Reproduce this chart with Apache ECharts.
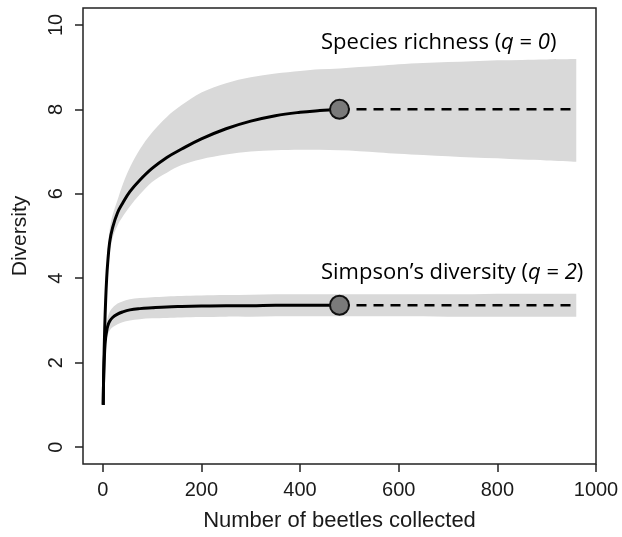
<!DOCTYPE html>
<html>
<head>
<meta charset="utf-8">
<script src="https://cdn.jsdelivr.net/npm/echarts@6/dist/echarts.min.js"></script>
<style>
html,body{margin:0;padding:0;background:#fff;}
#chart{width:622px;height:537px;}
</style>
</head>
<body>
<div id="chart"></div>
<script>
// Rarefaction (interpolation) part: sample sizes
const xRare = [1, 2, 4, 6, 8, 10, 14, 20, 30, 40, 55, 75, 100, 130, 160, 200, 250, 300, 350, 400, 440, 480];
// Extrapolation part
const xExtra = [480, 520, 560, 600, 650, 700, 750, 800, 850, 900, 960];

// Species richness (q = 0)
const richRare   = [1.0, 1.8, 2.8, 3.5, 4.0, 4.35, 4.85, 5.2, 5.55, 5.77, 6.05, 6.32, 6.6, 6.86, 7.06, 7.3, 7.54, 7.72, 7.85, 7.93, 7.97, 8.0];
const richRareUp = [1.0, 1.85, 2.95, 3.7, 4.25, 4.65, 5.15, 5.5, 5.85, 6.2, 6.62, 7.05, 7.45, 7.82, 8.1, 8.4, 8.62, 8.76, 8.85, 8.91, 8.95, 8.97];
const richRareLo = [1.0, 1.75, 2.65, 3.3, 3.75, 4.1, 4.55, 4.95, 5.25, 5.45, 5.7, 5.98, 6.28, 6.5, 6.68, 6.82, 6.93, 7.0, 7.03, 7.04, 7.04, 7.03];
const richExtra   = [8.0, 8.0, 8.0, 8.0, 8.0, 8.0, 8.0, 8.0, 8.0, 8.0, 8.0];
const richExtraUp = [8.97, 9.0, 9.03, 9.07, 9.1, 9.12, 9.14, 9.16, 9.17, 9.18, 9.19];
const richExtraLo = [7.03, 7.01, 6.98, 6.95, 6.92, 6.89, 6.86, 6.84, 6.81, 6.79, 6.76];

// Simpson's diversity (q = 2)
const simpRare   = [1.0, 1.7, 2.3, 2.6, 2.75, 2.86, 2.98, 3.07, 3.15, 3.2, 3.25, 3.28, 3.3, 3.32, 3.33, 3.34, 3.35, 3.35, 3.36, 3.36, 3.36, 3.36];
const simpRareUp = [1.0, 1.75, 2.4, 2.75, 2.95, 3.07, 3.2, 3.3, 3.4, 3.45, 3.5, 3.53, 3.55, 3.57, 3.58, 3.59, 3.6, 3.61, 3.62, 3.62, 3.62, 3.62];
const simpRareLo = [1.0, 1.65, 2.2, 2.45, 2.55, 2.65, 2.76, 2.84, 2.91, 2.96, 3.0, 3.03, 3.05, 3.06, 3.07, 3.08, 3.09, 3.09, 3.1, 3.1, 3.1, 3.1];
const simpExtra   = [3.36, 3.36, 3.36, 3.36, 3.36, 3.36, 3.36, 3.36, 3.36, 3.36, 3.36];
const simpExtraUp = [3.62, 3.62, 3.62, 3.62, 3.62, 3.62, 3.62, 3.63, 3.63, 3.63, 3.63];
const simpExtraLo = [3.1, 3.1, 3.1, 3.1, 3.1, 3.09, 3.09, 3.09, 3.09, 3.09, 3.09];

// Observed (reference sample) points
const observedX = [480, 480];
const observedY = [8.0, 3.36];

// Tick labels
const xTicks = [0, 200, 400, 600, 800, 1000];
const yTicks = [0, 2, 4, 6, 8, 10];

const labelSpecies = 'Species richness';
const labelSimpson = 'Simpson\u2019s diversity';

function pairs(xs, ys) { return xs.map((x, i) => [x, ys[i]]); }

const bandX = xRare.concat(xExtra.slice(1));
const richUp = richRareUp.concat(richExtraUp.slice(1));
const richLo = richRareLo.concat(richExtraLo.slice(1));
const simpUp = simpRareUp.concat(simpExtraUp.slice(1));
const simpLo = simpRareLo.concat(simpExtraLo.slice(1));

// smooth (Catmull-Rom) path segment through pixel points
function smoothSeg(p, first) {
  let d = first ? 'M' + p[0][0] + ' ' + p[0][1] : 'L' + p[0][0] + ' ' + p[0][1];
  const n = p.length;
  for (let i = 0; i < n - 1; i++) {
    const p0 = p[Math.max(i - 1, 0)], p1 = p[i], p2 = p[i + 1], p3 = p[Math.min(i + 2, n - 1)];
    const c1x = p1[0] + (p2[0] - p0[0]) / 6, c1y = p1[1] + (p2[1] - p0[1]) / 6;
    const c2x = p2[0] - (p3[0] - p1[0]) / 6, c2y = p2[1] - (p3[1] - p1[1]) / 6;
    d += ' C' + c1x + ' ' + c1y + ' ' + c2x + ' ' + c2y + ' ' + p2[0] + ' ' + p2[1];
  }
  return d;
}

function bandSeries(xs, up, lo) {
  return {
    type: 'custom', silent: true, z: 1, clip: true,
    data: [[0, 0]],
    renderItem: function (params, api) {
      const top = xs.map((x, i) => api.coord([x, up[i]]));
      const bot = xs.map((x, i) => api.coord([x, lo[i]])).reverse();
      const d = smoothSeg(top, true) + ' ' + smoothSeg(bot, false) + ' Z';
      return { type: 'path', shape: { pathData: d }, style: { fill: '#d9d9d9', stroke: null } };
    }
  };
}

const axisFont = 'Liberation Sans, Arial, sans-serif';
const textColor = '#1a1a1a';

const solidLine = (data) => ({
  type: 'line', data: data, showSymbol: false, symbol: 'none',
  smooth: 0.4, z: 3, silent: true,
  lineStyle: { color: '#000', width: 3 }
});
const dashLine = (data) => ({
  type: 'line', data: data, showSymbol: false, symbol: 'none', z: 3, silent: true,
  lineStyle: { color: '#000', width: 2.5, type: [10, 7] }
});

const rich = {
  n: { fontFamily: 'Open Sans', fontSize: 22, color: textColor },
  i: { fontFamily: 'Open Sans', fontSize: 22, fontStyle: 'italic', color: textColor }
};

const chart = echarts.init(document.getElementById('chart'), null, { renderer: 'canvas' });
chart.setOption({
  animation: false,
  backgroundColor: '#fff',
  grid: { left: 83, right: 26, top: 8, bottom: 72, show: true, borderColor: '#222', borderWidth: 1.5, backgroundColor: 'transparent' },
  xAxis: {
    type: 'value', min: -40, max: 1000,
    name: 'Number of beetles collected', nameLocation: 'middle', nameGap: 46,
    nameTextStyle: { fontFamily: axisFont, fontSize: 22, color: textColor },
    axisLine: { show: false, onZero: false },
    axisTick: { show: true, inside: false, length: 8, customValues: xTicks, lineStyle: { color: '#222', width: 1.5 } },
    axisLabel: { customValues: xTicks, formatter: (v) => String(v), fontFamily: axisFont, fontSize: 20, color: textColor, margin: 16 },
    splitLine: { show: false }
  },
  yAxis: {
    type: 'value', min: -0.4, max: 10.4,
    name: 'Diversity', nameLocation: 'middle', nameGap: 52,
    nameTextStyle: { fontFamily: axisFont, fontSize: 21, color: textColor },
    axisLine: { show: false, onZero: false },
    axisTick: { show: true, inside: false, length: 8, customValues: yTicks, lineStyle: { color: '#222', width: 1.5 } },
    axisLabel: { customValues: yTicks, formatter: (v) => String(v), rotate: 90, fontFamily: axisFont, fontSize: 20, color: textColor, margin: 17 },
    splitLine: { show: false }
  },
  graphic: [
    { type: 'text', left: 321, top: 32, z: 10,
      style: { text: '{n|' + labelSpecies + ' (}{i|q}{n| = }{i|0}{n|)}', rich: rich } },
    { type: 'text', left: 321, top: 262, z: 10,
      style: { text: '{n|' + labelSimpson + ' (}{i|q}{n| = }{i|2}{n|)}', rich: rich } }
  ],
  series: [
    bandSeries(bandX, richUp, richLo),
    bandSeries(bandX, simpUp, simpLo),
    solidLine(pairs(xRare, richRare)),
    solidLine(pairs(xRare, simpRare)),
    dashLine(pairs(xExtra, richExtra)),
    dashLine(pairs(xExtra, simpExtra)),
    {
      type: 'scatter', z: 5, silent: true,
      data: pairs(observedX, observedY),
      symbol: 'circle', symbolSize: 19,
      itemStyle: { color: '#7a7a7a', borderColor: '#111', borderWidth: 2, opacity: 1 }
    }
  ]
});
</script>
</body>
</html>
